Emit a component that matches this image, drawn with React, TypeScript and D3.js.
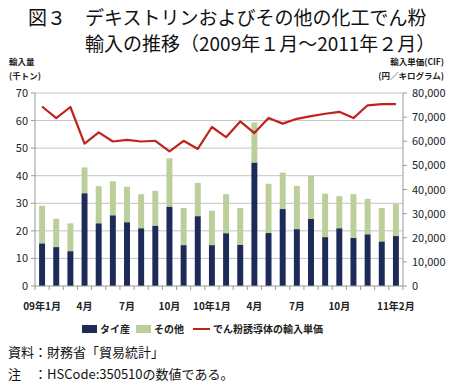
import React from 'react';
import * as d3 from 'd3';

// months 2009/1 .. 2011/2
const months = d3.range(26).map((i) => `m${i + 1}`);
const xLabels = ['09年1月', '', '', '4月', '', '', '7月', '', '', '10月', '', '', '10年1月', '', '', '4月', '', '', '7月', '', '', '10月', '', '', '', '11年2月'];

// thousand tons
const thai = [15.4, 14.1, 12.6, 33.6, 22.7, 25.6, 23.1, 20.9, 21.8, 28.7, 14.8, 25.3, 14.8, 19.1, 14.9, 44.7, 19.2, 27.9, 20.6, 24.3, 17.7, 20.9, 17.4, 18.7, 16.1, 18.1];
const total = [29.1, 24.4, 22.7, 43.0, 36.2, 38.0, 36.0, 33.3, 34.5, 46.3, 28.3, 37.4, 27.3, 33.3, 28.3, 59.3, 37.1, 41.1, 36.3, 39.9, 33.5, 32.6, 33.3, 31.6, 28.3, 29.7];

// yen per kg
const price = [74400, 69600, 74200, 59000, 63700, 59900, 60600, 59900, 60200, 55800, 60200, 56800, 65900, 61700, 68200, 63400, 69600, 67300, 69300, 70400, 71400, 72200, 69600, 74900, 75400, 75400];

const leftTicks = [0, 10, 20, 30, 40, 50, 60, 70];
const rightTicks = [0, 10000, 20000, 30000, 40000, 50000, 60000, 70000, 80000];

const NAVY = '#1c2b57';
const GREEN = '#bccf9a';
const RED = '#c0231c';
const FONT = '"Noto Sans CJK JP", "Noto Sans", sans-serif';

const App = () => {
  const left = 35;
  const right = 403;
  const top = 93;
  const bottom = 286;

  const x = d3.scaleBand().domain(months).range([left, right]).paddingInner(0.58).paddingOuter(0.29);
  const yL = d3.scaleLinear().domain([0, 70]).range([bottom, top]);
  const yR = d3.scaleLinear().domain([0, 80000]).range([bottom, top]);
  const cx = (i) => (x(months[i]) as number) + x.bandwidth() / 2;
  const step = x.step();

  const line = d3
    .line<number>()
    .x((_, i) => cx(i))
    .y((d) => yR(d));

  const fmt = d3.format(',');

  return (
    <svg width={451} height={386} style={{ position: 'absolute', left: 0, top: 0 }} fontFamily={FONT}>
      <rect width={451} height={386} fill="#fff" />
      {/* title */}
      <text x={28} y={25} fontSize={19} fill="#111">図３　デキストリンおよびその他の化工でん粉</text>
      <text x={85} y={51} fontSize={19} fill="#111">輸入の推移（2009年１月～2011年２月）</text>

      {/* axis titles */}
      <text x={9} y={65} fontSize={8.5} fontWeight="bold" fill="#222">輸入量</text>
      <text x={9} y={79} fontSize={8.5} fontWeight="bold" fill="#222">(千トン)</text>
      <text x={444} y={65} fontSize={8.5} fontWeight="bold" fill="#222" textAnchor="end">輸入単価(CIF)</text>
      <text x={444} y={79} fontSize={8.5} fontWeight="bold" fill="#222" textAnchor="end">(円／キログラム)</text>

      {/* grid */}
      {leftTicks.slice(1).map((t) => (
        <line key={t} x1={left} x2={right} y1={yL(t)} y2={yL(t)} stroke="#c4c4c4" strokeWidth={1} />
      ))}

      {/* bars */}
      {months.map((m, i) => (
        <g key={m}>
          <rect x={x(m)} width={x.bandwidth()} y={yL(total[i])} height={yL(thai[i]) - yL(total[i])} fill={GREEN} />
          <rect x={x(m)} width={x.bandwidth()} y={yL(thai[i])} height={bottom - yL(thai[i])} fill={NAVY} />
        </g>
      ))}

      {/* price line */}
      <path d={line(price) as string} fill="none" stroke={RED} strokeWidth={2.2} strokeLinejoin="round" />

      {/* axes */}
      <line x1={left} x2={left} y1={top} y2={bottom} stroke="#999" />
      <line x1={right} x2={right} y1={top} y2={bottom} stroke="#999" />
      <line x1={left} x2={right} y1={bottom} y2={bottom} stroke="#999" />
      {leftTicks.map((t) => (
        <g key={t}>
          <line x1={left - 4} x2={left} y1={yL(t)} y2={yL(t)} stroke="#999" />
          <text x={28} y={yL(t) + 4} fontSize={11} textAnchor="end" fill="#222">{t}</text>
        </g>
      ))}
      {rightTicks.map((t) => (
        <g key={t}>
          <line x1={right} x2={right + 4} y1={yR(t)} y2={yR(t)} stroke="#999" />
          <text x={412} y={yR(t) + 4} fontSize={11} fill="#222">{fmt(t)}</text>
        </g>
      ))}
      {d3.range(27).map((i) => (
        <line key={i} x1={left + i * step} x2={left + i * step} y1={bottom} y2={bottom + 4} stroke="#999" />
      ))}
      {xLabels.map((l, i) =>
        l ? (
          <text key={i} x={cx(i)} y={310} fontSize={10} fontWeight="bold" textAnchor="middle" fill="#222">{l}</text>
        ) : null
      )}

      {/* legend */}
      <rect x={82} y={325} width={15} height={8} fill={NAVY} />
      <text x={100} y={333} fontSize={10} fontWeight="bold" fill="#222">タイ産</text>
      <rect x={136} y={325} width={15} height={8} fill={GREEN} />
      <text x={154} y={333} fontSize={10} fontWeight="bold" fill="#222">その他</text>
      <line x1={193} x2={210} y1={329} y2={329} stroke={RED} strokeWidth={2} />
      <text x={213} y={333} fontSize={10} fontWeight="bold" fill="#222">でん粉誘導体の輸入単価</text>

      {/* notes */}
      <text x={8} y={357} fontSize={13} fill="#111">資料：財務省「貿易統計」</text>
      <text x={8} y={379} fontSize={13} fill="#111">注　：HSCode:350510の数値である。</text>
    </svg>
  );
};

export default App;
